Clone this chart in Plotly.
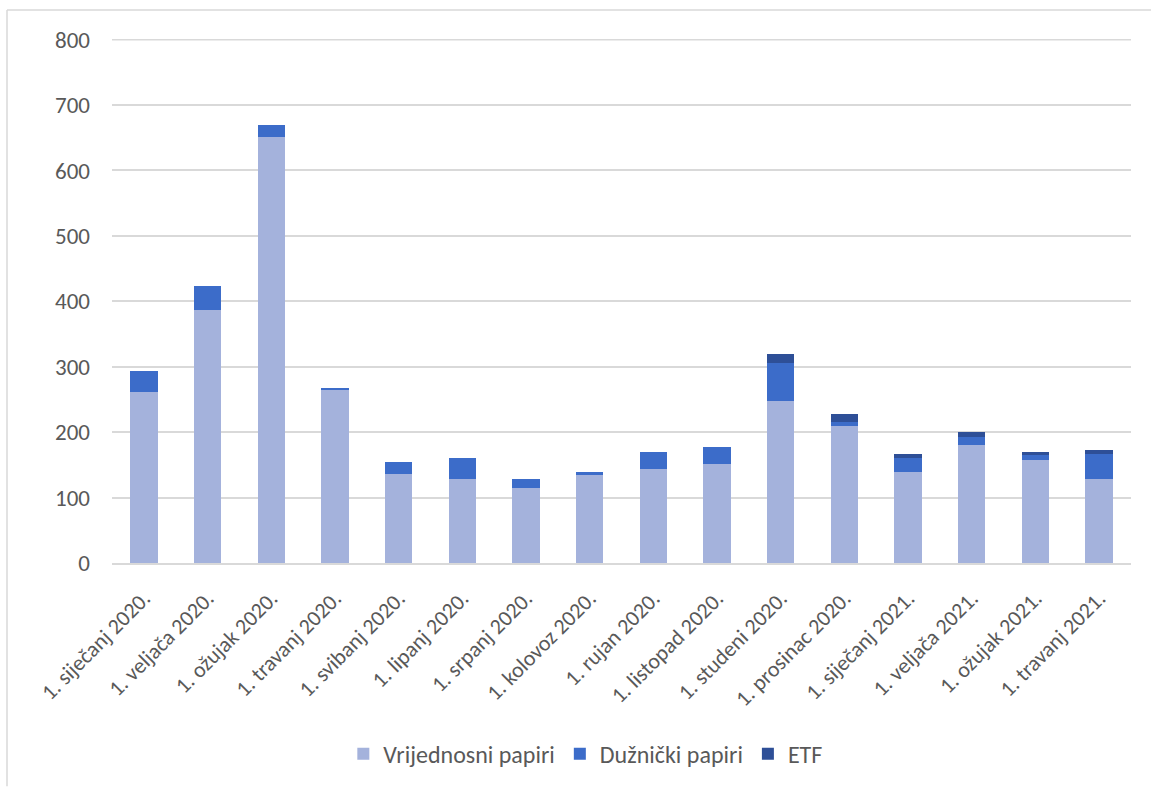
import plotly.graph_objects as go

categories = ["1. siječanj 2020.", "1. veljača 2020.", "1. ožujak 2020.", "1. travanj 2020.",
              "1. svibanj 2020.", "1. lipanj 2020.", "1. srpanj 2020.", "1. kolovoz 2020.",
              "1. rujan 2020.", "1. listopad 2020.", "1. studeni 2020.", "1. prosinac 2020.",
              "1. siječanj 2021.", "1. veljača 2021.", "1. ožujak 2021.", "1. travanj 2021."]
vrijednosni = [261, 387, 651, 265, 136, 128, 114, 134, 143, 152, 248, 210, 139, 180, 157, 128]
duznicki = [32, 37, 18, 3, 18, 32, 14, 5, 26, 26, 57, 6, 21, 12, 8, 38]
etf = [0, 0, 0, 0, 0, 0, 0, 0, 0, 0, 14, 12, 6, 8, 4, 6]
y_ticks = [0, 100, 200, 300, 400, 500, 600, 700, 800]

FONT = "Carlito, Lato, 'Liberation Sans', sans-serif"
W, H = 1151, 789
L, R, T, B = 112, 20, 39, 224
pw, ph = W - L - R, H - T - B

fig = go.Figure()
fig.add_bar(x=categories, y=vrijednosni, name="Vrijednosni papiri",
            marker=dict(color="#A4B2DC", line=dict(width=0)))
fig.add_bar(x=categories, y=duznicki, name="Dužnički papiri",
            marker=dict(color="#3C6CC9", line=dict(width=0)))
fig.add_bar(x=categories, y=etf, name="ETF",
            marker=dict(color="#2E4F97", line=dict(width=0)))

def px_x(p):
    return (p - L) / pw

def px_y(p):
    return (H - B - p) / ph

# chart border (top and left edges visible)
fig.add_shape(type="line", xref="paper", yref="paper",
              x0=px_x(7), x1=px_x(1151), y0=px_y(10), y1=px_y(10),
              line=dict(color="#D9D9D9", width=1.5), layer="below")
fig.add_shape(type="line", xref="paper", yref="paper",
              x0=px_x(7), x1=px_x(7), y0=px_y(10), y1=px_y(789),
              line=dict(color="#D9D9D9", width=1.5), layer="below")
# top gridline at the range edge
fig.add_shape(type="line", xref="paper", yref="y",
              x0=0, x1=1, y0=y_ticks[-1], y1=y_ticks[-1],
              line=dict(color="#D9D9D9", width=1.5), layer="below")

fig.update_layout(
    width=W, height=H,
    barmode="stack", bargap=0.57,
    margin=dict(l=L, r=R, t=T, b=B),
    paper_bgcolor="white", plot_bgcolor="white",
    font=dict(family=FONT, size=21, color="#595959"),
    showlegend=True,
    legend=dict(orientation="h", x=0.465, xanchor="center", y=px_y(757), yanchor="middle",
                font=dict(size=24, color="#595959"), traceorder="normal",
                itemwidth=30, tracegroupgap=0),
    xaxis=dict(tickangle=-45, showgrid=False, showline=True, linecolor="#D9D9D9",
               linewidth=1.5, ticks="", ticklabelstandoff=12,
               tickfont=dict(size=22, color="#595959")),
    yaxis=dict(range=[0, 801], tickvals=y_ticks, showgrid=True, gridcolor="#D9D9D9",
               gridwidth=1.5, zeroline=False, showline=False, ticks="", ticklen=0,
               ticklabelstandoff=21, tickfont=dict(size=23, color="#595959")),
)

fig.write_html("out.html", config={"displayModeBar": False},
               post_script="document.body.style.margin='0px';")
